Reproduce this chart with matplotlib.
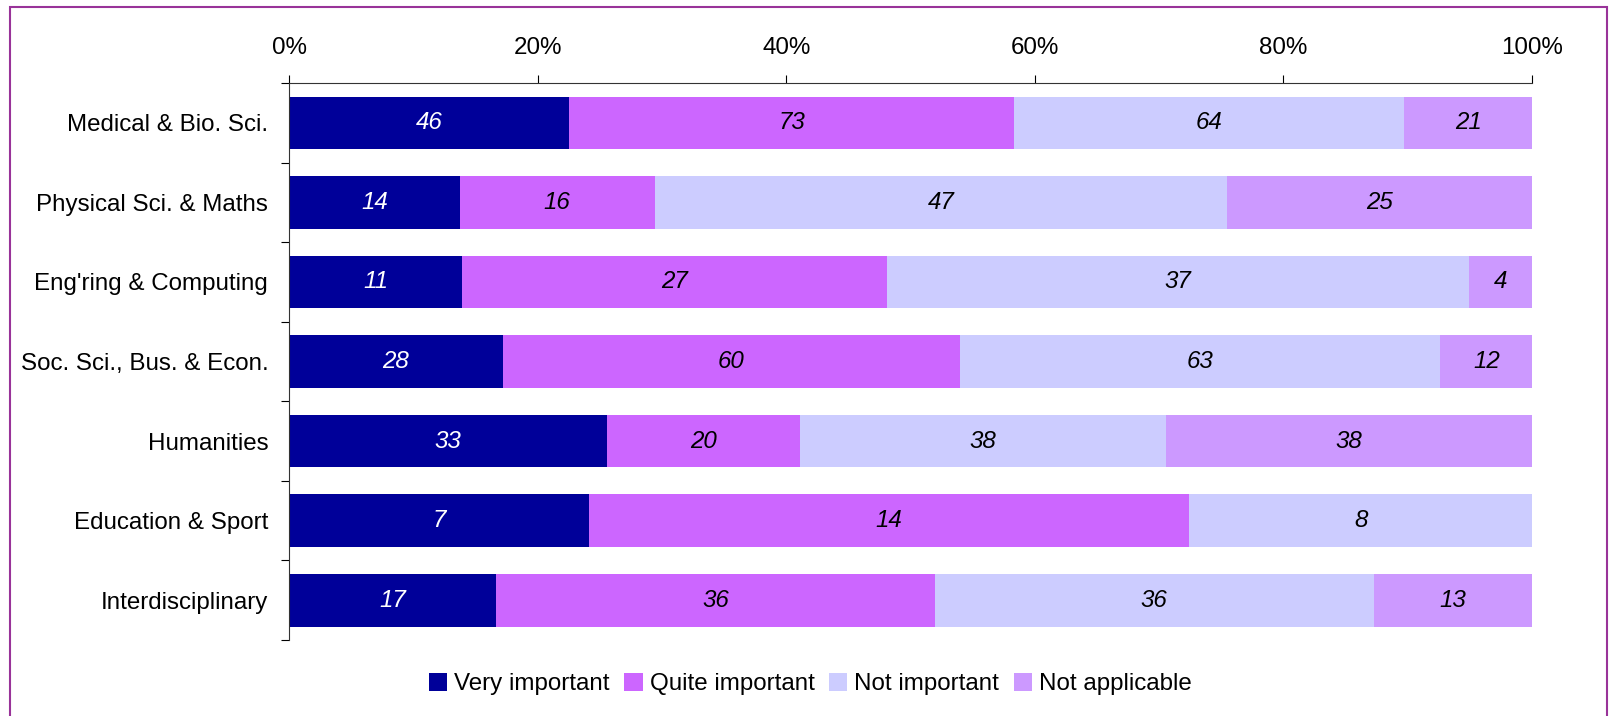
import matplotlib
matplotlib.use('Agg')
import matplotlib.pyplot as plt
from matplotlib.patches import Rectangle
import numpy as np

plt.rcParams['font.family'] = ['Liberation Sans', 'DejaVu Sans']

# survey counts per subject area
categories = ['Medical & Bio. Sci.', 'Physical Sci. & Maths', "Eng'ring & Computing",
              'Soc. Sci., Bus. & Econ.', 'Humanities', 'Education & Sport', 'Interdisciplinary']
series_names = ['Very important', 'Quite important', 'Not important', 'Not applicable']
very_important = [46, 14, 11, 28, 33, 7, 17]
quite_important = [73, 16, 27, 60, 20, 14, 36]
not_important = [64, 47, 37, 63, 38, 8, 36]
not_applicable = [21, 25, 4, 12, 38, 0, 13]

colors = ['#000099', '#CC66FF', '#CCCCFF', '#CC99FF']
label_colors = ['white', 'black', 'black', 'black']
fs = 17.4

counts = np.array([very_important, quite_important, not_important, not_applicable], dtype=float)
totals = counts.sum(axis=0)
shares = counts / totals * 100

fig = plt.figure(figsize=(16.21, 7.16), dpi=100)
ax = fig.add_axes([0.1783, 0.1061, 0.7668, 0.778])

y = np.arange(len(categories))
left = np.zeros(len(categories))
for i in range(len(series_names)):
    ax.barh(y, shares[i], left=left, height=0.66, color=colors[i],
            label=series_names[i], edgecolor='none')
    for j in range(len(categories)):
        if counts[i, j] > 0:
            ax.text(left[j] + shares[i, j] / 2, y[j], str(int(counts[i, j])),
                    ha='center', va='center', fontsize=fs, style='italic',
                    color=label_colors[i])
    left = left + shares[i]

ax.set_xlim(0, 100)
ax.set_ylim(len(categories) - 0.5, -0.5)

ax.xaxis.tick_top()
ax.set_xticks(np.arange(0, 101, 20))
ax.set_xticklabels([f'{v}%' for v in range(0, 101, 20)])
ax.tick_params(axis='x', length=6, width=0.8, pad=11, labelsize=fs, direction='out')

ax.set_yticks(y)
ax.set_yticklabels(categories)
ax.tick_params(axis='y', which='major', length=0, pad=15, labelsize=fs)
ax.set_yticks(np.arange(-0.5, len(categories)), minor=True)
ax.tick_params(axis='y', which='minor', length=6, width=0.8, direction='out')

for s in ['right', 'bottom']:
    ax.spines[s].set_visible(False)
for s in ['top', 'left']:
    ax.spines[s].set_color('#333333')
    ax.spines[s].set_linewidth(0.8)

fig.legend(loc='center', bbox_to_anchor=(0.5, 0.0447), ncol=4, frameon=False,
           fontsize=fs, handlelength=0.75, handleheight=0.75, handletextpad=0.3,
           columnspacing=0.6)

# purple frame around the chart
fig.patches.append(Rectangle((10 / 1621, -0.05), 1607 / 1621 - 10 / 1621, 1 - 7 / 716 + 0.05,
                             transform=fig.transFigure, fill=False,
                             edgecolor='#993399', linewidth=1.5))

fig.savefig('out.png', dpi=100)
